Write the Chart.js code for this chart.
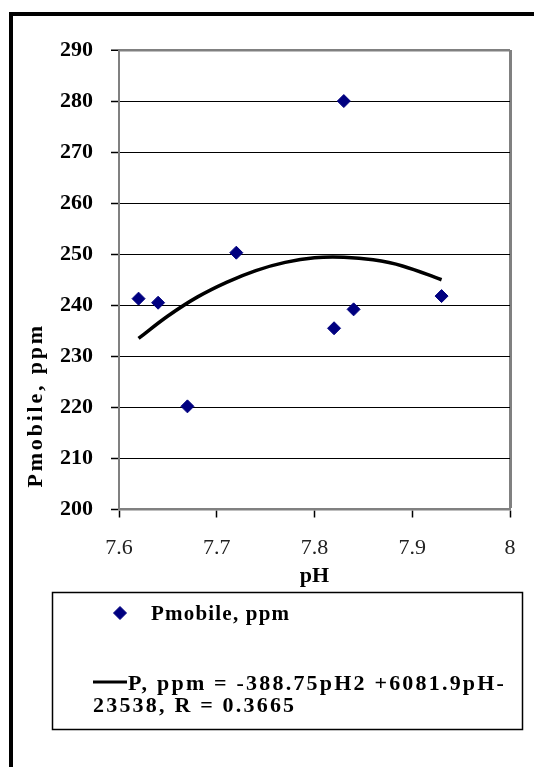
<!DOCTYPE html>
<html>
<head>
<meta charset="utf-8">
<script src="https://cdn.jsdelivr.net/npm/chart.js@4.4.1/dist/chart.umd.min.js"></script>
<style>
  html, body { margin: 0; padding: 0; background: #fff; }
  #wrap { position: relative; width: 534px; height: 767px; overflow: hidden; }
  #frame { position: absolute; left: 9px; top: 12px; width: 540px; height: 770px; border-left: 4px solid #000; border-top: 4px solid #000; }
  canvas { position: absolute; left: 0; top: 0; }
</style>
</head>
<body>
<div id="wrap">
  <div id="frame"></div>
  <canvas id="phChart" width="534" height="767"></canvas>
</div>
<script>
// Measured points (pH vs mobile P)
const phValues = [7.62, 7.64, 7.67, 7.72, 7.82, 7.83, 7.84, 7.93];
const pmobileValues = [241.3, 240.5, 220.2, 250.3, 235.5, 280.0, 239.2, 241.8];

// Fitted curve
const trendPh = [7.62, 7.65, 7.68, 7.71, 7.74, 7.77, 7.80, 7.83, 7.86, 7.89, 7.93];
const trendValues = [233.5, 237.9, 241.6, 244.5, 246.8, 248.4, 249.3, 249.4, 248.9, 247.7, 245.0];

// Axis ticks
const xTicks = [7.6, 7.7, 7.8, 7.9, 8];
const yTicks = [200, 210, 220, 230, 240, 250, 260, 270, 280, 290];

// Texts
const pointLabel = 'Pmobile, ppm';
const trendLabel = ['P, ppm = -388.75pH2 +6081.9pH-', '23538, R = 0.3665'];
const xTitle = 'pH';
const yTitle = 'Pmobile, ppm';

const serif = '"Liberation Serif", "Times New Roman", serif';

// Draws the rotated y title and the boxed legend
const extrasPlugin = {
    id: 'extras',
    afterDraw(chart) {
        const ctx = chart.ctx;
        const area = chart.chartArea;
        const pts = chart.data.datasets[0];
        const trend = chart.data.datasets[1];

        // y axis title (sits low on the axis, like the original)
        ctx.save();
        ctx.translate(36, area.bottom - 22);
        ctx.rotate(-Math.PI / 2);
        ctx.font = 'bold 22px ' + serif;
        ctx.letterSpacing = '2.8px';
        ctx.textAlign = 'left';
        ctx.textBaseline = 'middle';
        ctx.fillStyle = '#000';
        ctx.fillText(yTitle, 0, 0);
        ctx.restore();

        // legend box
        ctx.save();
        ctx.strokeStyle = '#000';
        ctx.lineWidth = 1.5;
        ctx.strokeRect(52.5, 592.5, 470, 137);

        // entry 1: marker
        ctx.fillStyle = pts.backgroundColor;
        ctx.strokeStyle = pts.borderColor;
        ctx.lineWidth = pts.borderWidth;
        Chart.helpers.drawPoint(ctx, { pointStyle: pts.pointStyle, radius: pts.pointRadius, rotation: 0, borderWidth: pts.borderWidth }, 120, 613);

        ctx.fillStyle = '#000';
        ctx.textAlign = 'left';
        ctx.textBaseline = 'alphabetic';
        ctx.font = 'bold 21px ' + serif;
        ctx.letterSpacing = '1.2px';
        ctx.fillText(pts.label, 151, 620);

        // entry 2: line sample
        ctx.strokeStyle = trend.borderColor;
        ctx.lineWidth = 3;
        ctx.beginPath();
        ctx.moveTo(93, 682);
        ctx.lineTo(127, 682);
        ctx.stroke();

        ctx.font = 'bold 22px ' + serif;
        ctx.letterSpacing = '2.2px';
        ctx.fillText(trend.label[0], 128, 690);
        ctx.fillText(trend.label[1], 93, 712);
        ctx.restore();
    }
};

const ctx = document.getElementById('phChart').getContext('2d');

new Chart(ctx, {
    type: 'scatter',
    data: {
        datasets: [{
            label: pointLabel,
            data: phValues.map((x, i) => ({ x: x, y: pmobileValues[i] })),
            pointStyle: 'rectRot',
            pointRadius: 6.5,
            pointHoverRadius: 6.5,
            backgroundColor: '#000080',
            borderColor: '#000080',
            borderWidth: 1,
            showLine: false,
            order: 1
        }, {
            label: trendLabel,
            data: trendPh.map((x, i) => ({ x: x, y: trendValues[i] })),
            showLine: true,
            borderColor: '#000',
            backgroundColor: '#000',
            borderWidth: 3.5,
            pointRadius: 0,
            tension: 0.4,
            fill: false,
            order: 2
        }]
    },
    options: {
        responsive: false,
        animation: false,
        devicePixelRatio: 1,
        layout: {
            padding: { left: 0, right: 24, top: 50, bottom: 177.5 }
        },
        plugins: {
            legend: { display: false },
            tooltip: { enabled: false }
        },
        scales: {
            x: {
                type: 'linear',
                min: 7.6,
                max: 8,
                afterBuildTicks: scale => { scale.ticks = xTicks.map(v => ({ value: v })); },
                afterFit: scale => { scale.height = 80; },
                ticks: {
                    font: { family: serif, size: 22 },
                    color: '#222',
                    padding: 18,
                    maxRotation: 0,
                    callback: v => String(v)
                },
                grid: {
                    color: c => (c.tick && c.tick.value === 8 ? '#808080' : 'rgba(0,0,0,0)'),
                    lineWidth: c => (c.tick && c.tick.value === 8 ? 3 : 1),
                    tickColor: '#000',
                    tickLength: 8,
                    tickWidth: 1.5
                },
                border: { color: '#808080', width: 2.5 },
                title: {
                    display: true,
                    text: xTitle,
                    color: '#000',
                    font: { family: serif, size: 22, weight: 'bold' },
                    padding: 0
                }
            },
            y: {
                min: 200,
                max: 290,
                afterBuildTicks: scale => { scale.ticks = yTicks.map(v => ({ value: v })); },
                afterFit: scale => { scale.width = 119; },
                ticks: {
                    font: { family: serif, size: 22, weight: 'bold' },
                    color: '#000',
                    padding: 18
                },
                grid: {
                    color: c => (c.tick && c.tick.value === 290 ? '#808080' : '#000'),
                    lineWidth: c => (c.tick && c.tick.value === 290 ? 2.5 : 1),
                    tickColor: '#000',
                    tickLength: 8,
                    tickWidth: 1.5
                },
                border: { color: '#808080', width: 2 },
                title: { display: false }
            }
        }
    },
    plugins: [extrasPlugin]
});
</script>
</body>
</html>
